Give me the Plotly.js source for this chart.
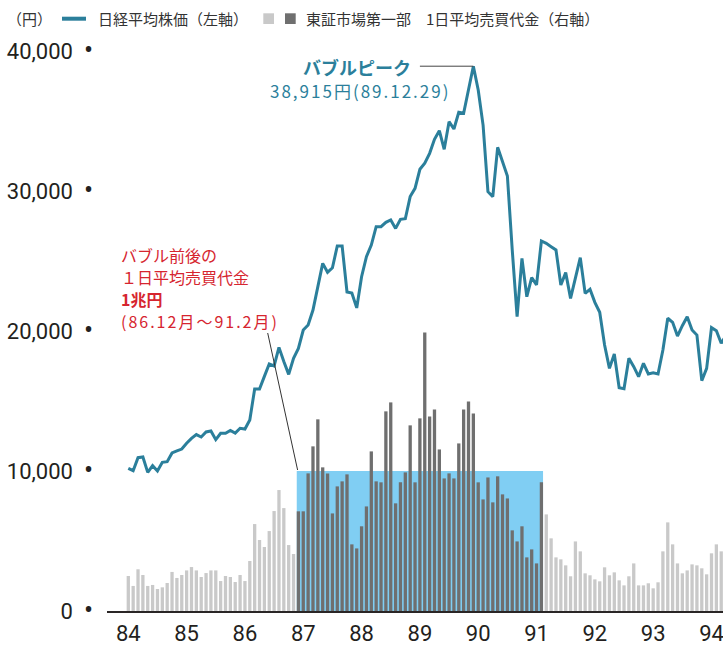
<!DOCTYPE html>
<html>
<head>
<meta charset="utf-8">
<script src="https://cdn.plot.ly/plotly-3.0.1.min.js"></script>
<style>html,body{margin:0;padding:0;background:#fff;}#chart{width:723px;height:646px;}</style>
</head>
<body>
<div id="chart"></div>
<script>
// ---- data (monthly, from Jan 1984) ----
const yearLabels = ['84','85','86','87','88','89','90','91','92','93','94'];
// Nikkei 225 month-end (yen), 84.1 -> 94.4
const nikkei = [
  10190,10020,10950,11000,9900,10380,10000,10620,10670,11290,11430,11570,
  11980,12330,12600,12430,12790,12860,12240,12690,12690,12900,12710,13050,
  13000,13640,15860,15860,16760,17640,17500,18830,17820,16900,18050,18750,
  20070,20430,21500,23170,24830,24190,24520,26070,26070,22790,22710,21650,
  23880,25310,26140,27450,27450,27760,27930,27330,27980,28020,29600,30190,
  31550,31980,32690,33690,34310,32980,34950,34430,35620,35550,37240,38915,
  37210,34710,29950,29600,33120,32100,31070,25790,21020,25190,22450,23810,
  23290,26430,26260,26020,25790,23290,24170,22330,23810,25240,22690,22980,
  22050,21340,19000,17330,18360,15950,15880,18050,17450,16740,17690,16930,
  17020,16930,18640,20910,20620,19640,20380,21020,20070,19710,16450,17330,
  20240,20020,19120,19700
];
// TSE 1st section daily average trading value (100 million yen)
const volBefore = [2500,1790,2980,2570,1790,1860,1570,1690,2000,2790,
  2360,2570,2900,3140,2900,2430,2710,2900,2900,2140,
  2500,2430,2070,2570,2140,3570,6210,5070,4570,5710,
  7140,8640,7350,4710,4070];                       // 84.1 - 86.11
const volBubble = [7120,7120,9830,11760,13690,10260,9830,6970,8900,9260,
  9760,4760,4470,6050,7470,11400,9260,9190,14260,14900,
  7690,9190,9900,13260,9190,13760,19900,13900,14400,11540,
  9470,9830,9470,11970,14400,14970,14110,9190,7970,9540,
  7760,9620,8330,8040,5760,4970,6050,3830,4400,3400,
  9190];                                             // 86.12 - 91.2
const volAfter = [6900,5190,3830,3690,3260,2480,4970,4260,2690,2550,
  2260,2120,3120,2550,2760,2190,1830,2480,3400,1830,
  1830,1980,1620,2050,4260,6330,4760,3400,2690,2900,
  3330,3260,3050,2620,4120,4760,4260];              // 91.3 - 94.3
const bubbleLevel = 10000;   // 1兆円 = 10,000億円
const yTickVals = [0,10000,20000,30000,40000];
const yTickText = ['0','10,000','20,000','30,000','40,000'];
const noteLines = ['バブル前後の', '１日平均売買代金', '<b>1兆円</b>',
  '<span style="letter-spacing:2px">(86.12月～91.2月)</span>'];

// ---- styles / layout ----
const W = 723, H = 646, L = 107, R = 0, T = 51, B = 35;
const PW = W - L - R, PH = H - T - B;
const px = v => (v - L) / PW;
const py = v => (H - B - v) / PH;
const NUM = 'Roboto, "Liberation Sans", sans-serif';
const JP = '"Noto Sans CJK JP", "Noto Sans", sans-serif';
const TEAL = '#2b7f9b', LIGHT = '#c9c9c9', DARK = '#6f6f6f', BLUE = '#80cef3', RED = '#d6252f';
const bw = 0.68;

const idx = (n, s) => Array.from({length: n}, (_, i) => i + s);
const xBefore = idx(volBefore.length, 0);
const xBubble = idx(volBubble.length, volBefore.length);
const xAfter = idx(volAfter.length, volBefore.length + volBubble.length);
const xLine = idx(nikkei.length, 0);
const peakVal = Math.max(...nikkei);
const peakIdx = nikkei.indexOf(peakVal);
const bStart = xBubble[0], bEnd = xBubble[xBubble.length - 1];

const traces = [
  {type:'bar', x:xBefore, y:volBefore, width:bw, marker:{color:LIGHT}, hoverinfo:'skip', showlegend:false},
  {type:'bar', x:xBubble, y:volBubble, width:bw, marker:{color:DARK}, hoverinfo:'skip', showlegend:false},
  {type:'bar', x:xAfter, y:volAfter, width:bw, marker:{color:LIGHT}, hoverinfo:'skip', showlegend:false},
  {type:'scatter', mode:'lines', x:xLine, y:nikkei, line:{color:TEAL, width:3}, hoverinfo:'skip', showlegend:false}
];

const pxPerMonth = 4.86;
const x0 = -(128.3 - L) / pxPerMonth;
const x1 = x0 + PW / pxPerMonth;

const bullet = '\u00a0\u00a0<span style="font-size:27px">\u2022</span>';

const noteY = [255, 277, 299, 321];
const noteAnn = noteLines.map((t, i) => ({
  xref:'paper', yref:'paper', x:px(120), y:py(noteY[i]), xanchor:'left', yanchor:'middle',
  showarrow:false, borderpad:0, text:t, font:{family:JP, size:16, color:RED}
}));

const layout = {
  width: W, height: H,
  margin: {l:L, r:R, t:T, b:B, pad:0},
  paper_bgcolor:'#fff', plot_bgcolor:'#fff',
  barmode:'overlay',
  showlegend:false,
  xaxis: {
    range:[x0, x1], tickvals: yearLabels.map((_, i) => i * 12), ticktext: yearLabels,
    showgrid:false, zeroline:false, showline:true, linecolor:'#2a2626', linewidth:1.5,
    ticks:'', ticklabelstandoff: 2, ticklabeloverflow:'allow',
    tickfont:{family:NUM, size:22, color:'#231f20'}
  },
  yaxis: {
    range:[0, 40000], tickvals:yTickVals, ticktext: yTickText.map(t => t + bullet),
    showgrid:false, zeroline:false, showline:false, ticks:'', ticklabelstandoff: 13,
    tickfont:{family:NUM, size:22, color:'#231f20'}
  },
  shapes: [
    {type:'rect', xref:'x', yref:'y', x0:bStart - bw/2, x1:bEnd + bw/2, y0:0, y1:bubbleLevel,
     fillcolor:BLUE, line:{width:0}, layer:'below'},
    // pointer from red note to the blue box
    {type:'line', xref:'paper', yref:'paper', x0:px(267.7), y0:py(333), x1:px(297.6), y1:py(470),
     line:{color:'#333', width:1}},
    // peak leader line
    {type:'line', xref:'x', yref:'y', x0:peakIdx - 11, y0:peakVal, x1:peakIdx, y1:peakVal,
     line:{color:'#444', width:1}},
    // legend marks
    {type:'line', xref:'paper', yref:'paper', x0:px(62), x1:px(86), y0:py(18.7), y1:py(18.7),
     line:{color:TEAL, width:4}},
    {type:'rect', xref:'paper', yref:'paper', x0:px(263.3), x1:px(274), y0:py(24), y1:py(13.3),
     fillcolor:LIGHT, line:{width:0}},
    {type:'rect', xref:'paper', yref:'paper', x0:px(285), x1:px(295.7), y0:py(24), y1:py(13.3),
     fillcolor:DARK, line:{width:0}}
  ],
  annotations: [
    {xref:'paper', yref:'paper', x:px(5), y:py(19), xanchor:'left', yanchor:'middle', showarrow:false,
     text:'（円）', font:{family:JP, size:15, color:'#333'}},
    {xref:'paper', yref:'paper', x:px(96), y:py(19), xanchor:'left', yanchor:'middle', showarrow:false,
     text:'日経平均株価（左軸）', font:{family:JP, size:15, color:'#333'}},
    {xref:'paper', yref:'paper', x:px(304), y:py(19), xanchor:'left', yanchor:'middle', showarrow:false,
     text:'東証市場第一部\u30001日平均売買代金（右軸）', font:{family:JP, size:15, color:'#333'}},
    {xref:'paper', yref:'paper', x:px(412), y:py(66.5), xanchor:'right', yanchor:'middle', showarrow:false,
     borderpad:0, text:'<b>バブルピーク</b>', font:{family:JP, size:18, color:TEAL}},
    {xref:'paper', yref:'paper', x:px(451), y:py(90.5), xanchor:'right', yanchor:'middle', showarrow:false,
     borderpad:0, text:'<span style="letter-spacing:2px">38,915円(89.12.29)</span>', font:{family:JP, size:17, color:TEAL}}
  ].concat(noteAnn)
};

Plotly.newPlot('chart', traces, layout, {staticPlot:true, displayModeBar:false});
</script>
</body>
</html>
